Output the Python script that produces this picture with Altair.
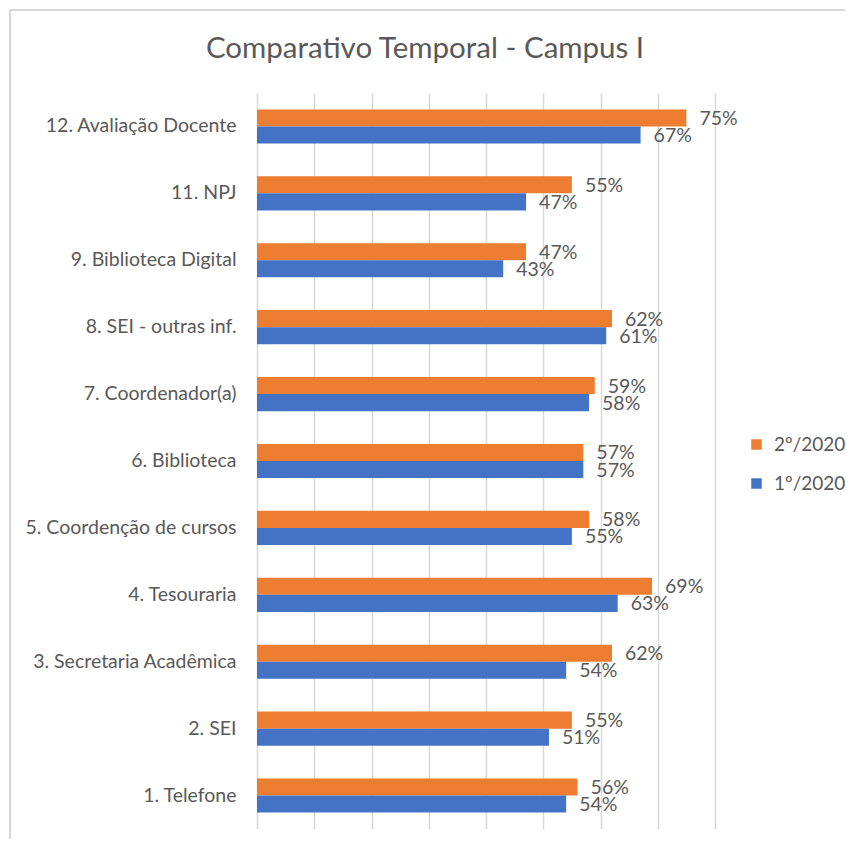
import altair as alt
import pandas as pd

categories = [
    "12. Avaliação Docente",
    "11. NPJ",
    "9. Biblioteca Digital",
    "8. SEI - outras inf.",
    "7. Coordenador(a)",
    "6. Biblioteca",
    "5. Coordenção de cursos",
    "4. Tesouraria",
    "3. Secretaria Acadêmica",
    "2. SEI",
    "1. Telefone",
]
s2_2020 = [75, 55, 47, 62, 59, 57, 58, 69, 62, 55, 56]
s1_2020 = [67, 47, 43, 61, 58, 57, 55, 63, 54, 51, 54]
series = ["2º/2020", "1º/2020"]
colors = ["#ED7D31", "#4472C4"]
title_text = "Comparativo Temporal - Campus I"

rows = []
for c, a, b in zip(categories, s2_2020, s1_2020):
    rows.append({"cat": c, "serie": series[0], "v": a, "lbl": f"{a}%"})
    rows.append({"cat": c, "serie": series[1], "v": b, "lbl": f"{b}%"})
df = pd.DataFrame(rows)

FONT = "Lato"
GRAY = "#595959"
FS = 19.5

y = alt.Y("cat:N", sort=categories, title=None,
          scale=alt.Scale(paddingInner=0.49, paddingOuter=0.245),
          axis=alt.Axis(domain=False, ticks=False, grid=False, labelFontSize=FS,
                        labelColor=GRAY, labelFont=FONT, labelPadding=21, labelLimit=400))
yoff = alt.YOffset("serie:N", sort=series, scale=alt.Scale(paddingInner=0, paddingOuter=0))
x = alt.X("v:Q", title=None,
          scale=alt.Scale(domain=[0, 80], nice=False),
          axis=alt.Axis(values=[0, 10, 20, 30, 40, 50, 60, 70, 80], labels=False, ticks=False,
                        domain=False, grid=True, gridColor="#D9D9D9", gridWidth=1.5))

bars = alt.Chart(df).mark_bar().encode(
    x=x, y=y, yOffset=yoff,
    color=alt.Color("serie:N", sort=series,
                    scale=alt.Scale(domain=series, range=colors),
                    legend=alt.Legend(title=None, orient="none", legendX=490, legendY=342,
                                      symbolType="square", symbolSize=110, symbolStrokeWidth=0,
                                      labelFontSize=19, labelColor=GRAY, labelFont=FONT,
                                      rowPadding=19, labelOffset=8)),
)

text = alt.Chart(df).mark_text(align="left", baseline="middle", dx=13, dy=1, fontSize=FS,
                               color=GRAY, font=FONT).encode(
    x="v:Q", y=alt.Y("cat:N", sort=categories), yOffset=alt.YOffset("serie:N", sort=series),
    text="lbl:N",
)

frame = alt.Chart(pd.DataFrame({"a": [0]})).mark_rect(
    fill=None, stroke="#D9D9D9", strokeWidth=2
).encode(x=alt.value(-247), x2=alt.value(606), y=alt.value(-83), y2=alt.value(764))

title = alt.Chart(pd.DataFrame({"t": [title_text]})).mark_text(
    align="center", baseline="middle", fontSize=29.5, font=FONT, color=GRAY
).encode(x=alt.value(168), y=alt.value(-44), text="t:N")

chart = alt.layer(frame, bars, text, title).properties(
    width=458, height=736,
    autosize=alt.AutoSizeParams(type="none"),
    padding={"left": 249, "top": 85, "right": 130, "bottom": 10},
).configure_view(stroke=None)

chart.save("out.html", embed_options={"renderer": "svg", "actions": False})
